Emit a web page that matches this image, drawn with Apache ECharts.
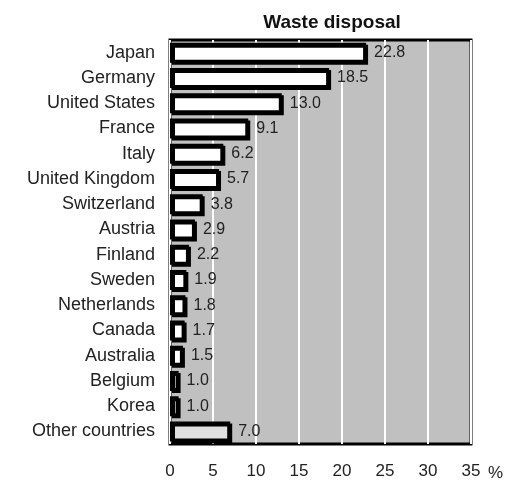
<!DOCTYPE html>
<html>
<head>
<meta charset="utf-8">
<script src="https://cdn.jsdelivr.net/npm/echarts@6/dist/echarts.min.js"></script>
<style>
  html, body { margin: 0; padding: 0; background: #fff; }
  #chart { width: 506px; height: 480px; }
</style>
</head>
<body>
<div id="chart"></div>
<script>
// Waste disposal share by country, in per cent
const countries = ['Japan', 'Germany', 'United States', 'France', 'Italy', 'United Kingdom',
  'Switzerland', 'Austria', 'Finland', 'Sweden', 'Netherlands', 'Canada', 'Australia',
  'Belgium', 'Korea', 'Other countries'];
const shares = [22.8, 18.5, 13.0, 9.1, 6.2, 5.7, 3.8, 2.9, 2.2, 1.9, 1.8, 1.7, 1.5, 1.0, 1.0, 7.0];
const xTicks = [0, 5, 10, 15, 20, 25, 30, 35];

const FONT = 'Liberation Sans, Arial, Helvetica';
const chart = echarts.init(document.getElementById('chart'));

const barData = shares.map((v, i) => ({
  value: v,
  itemStyle: countries[i] === 'Other countries' ? { color: '#e0e0e0' } : {}
}));

chart.setOption({
  animation: false,
  title: {
    text: 'Waste disposal',
    left: 327, top: 8, textAlign: 'center',
    textStyle: { fontFamily: FONT, fontSize: 19, fontWeight: 'bold', color: '#111' }
  },
  grid: {
    left: 170, right: 35, top: 40, bottom: 33,
    show: true, backgroundColor: '#c0c0c0', borderColor: '#000', borderWidth: 3
  },
  xAxis: {
    type: 'value', min: xTicks[0], max: xTicks[xTicks.length - 1], interval: 5,
    axisLine: { show: false }, axisTick: { show: false },
    splitLine: { show: true, lineStyle: { color: '#fff', width: 2 } },
    axisLabel: { margin: 19, color: '#222', fontSize: 17, fontFamily: FONT }
  },
  yAxis: {
    type: 'category', data: countries, inverse: true,
    axisLine: { show: false }, axisTick: { show: false },
    axisLabel: { margin: 15, color: '#222', fontSize: 18, fontFamily: FONT }
  },
  graphic: [{
    type: 'text', left: 488, top: 465,
    style: { text: '%', fontSize: 17, fontFamily: FONT, fill: '#222' }
  }],
  series: [{
    type: 'bar', data: barData, barWidth: 20,
    itemStyle: {
      color: '#fff', borderColor: '#000', borderWidth: 3,
      shadowColor: '#000', shadowOffsetX: 2, shadowOffsetY: 2, shadowBlur: 0
    },
    label: {
      show: true, position: 'right', distance: 8, color: '#222', fontSize: 16,
      fontFamily: FONT,
      formatter: p => p.value.toFixed(1)
    }
  }]
});
</script>
</body>
</html>
